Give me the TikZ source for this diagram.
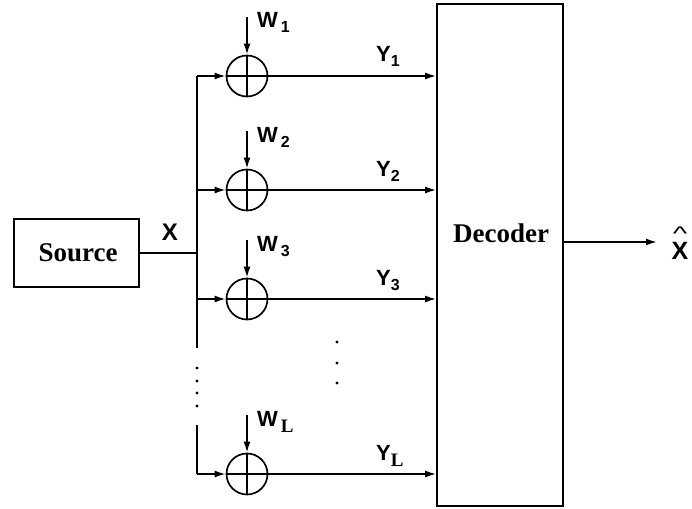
\documentclass[tikz,border=0pt]{standalone}
\usepackage{fontspec}
\setmainfont{Liberation Serif}
\setsansfont{Liberation Sans}
\usetikzlibrary{arrows.meta}
\newcommand{\subn}[1]{\raisebox{-5pt}{\fontsize{16}{16}\selectfont #1}}
\newcommand{\subL}{\raisebox{-6pt}{\rmfamily\bfseries\fontsize{19}{19}\selectfont L}}
\newcommand{\hatX}{\ooalign{X\cr\hidewidth\raisebox{19pt}{\mdseries\fontsize{22}{22}\selectfont\scalebox{1.4}[0.9]{\textasciicircum}}\hidewidth\cr}}
\begin{document}
\begin{tikzpicture}[x=1pt,y=-1pt,
  wire/.style={line width=1.7pt},
  arr/.style={wire,-{Latex[length=11pt,width=7pt]}},
  box/.style={draw,line width=1.7pt,inner sep=0pt},
  adder/.style={draw,circle,line width=1.7pt,minimum size=41pt,inner sep=0pt},
  lbl/.style={font=\sffamily\bfseries\fontsize{22}{22}\selectfont,inner sep=0pt},
  bigt/.style={font=\bfseries\fontsize{27}{27}\selectfont,inner sep=0pt},
  dot/.style={circle,fill,inner sep=0pt,minimum size=3.2pt}]
\useasboundingbox (0,0) rectangle (692,508);
% boxes
\node[box,minimum width=125pt,minimum height=68pt] (src) at (76.5,253) {};
\node[bigt] at (78,253) {Source};
\node[box,minimum width=126pt,minimum height=502pt] (dec) at (500,255) {};
\node[bigt] at (501,233) {Decoder};
% bus
\coordinate (bA) at (197,76);
\coordinate (bS) at (197,253);
\coordinate (bB) at (197,348);
\coordinate (bC) at (197,425);
\coordinate (bD) at (197,474);
\draw[wire] (src.east |- bS) -- (bS);
\draw[wire] (bA) -- (bB);
\draw[wire] (bC) -- (bD);
\node[lbl,font=\sffamily\bfseries\fontsize{24}{24}\selectfont] at (170,232) {X};
\foreach \yy in {368,381,393,406} \node[dot] at (197,\yy) {};
\foreach \yy in {342,363,383} \node[dot] at (337,\yy) {};
% branches
\foreach \i/\yy/\s in {1/76/\subn{1},2/190/\subn{2},3/299/\subn{3},4/474/\subL}{
  \node[adder] (a\i) at (247,\yy) {};
  \draw[wire] (a\i.north) -- (a\i.south);
  \coordinate (w\i) at (247,\yy-59);
  \coordinate (bi\i) at (197,\yy);
  \draw[arr] (bi\i) -- (a\i.west);
  \draw[arr] (w\i) -- (a\i.north);
  \draw[arr] (a\i.west) -- (a\i.west -| dec.west);
  \node[lbl,anchor=base west] at (257,\yy-48) {W\hspace{3pt}\s};
  \node[lbl,anchor=base west] at (376,\yy-14) {Y\s};
}
% output
\coordinate (out) at (657,242);
\draw[arr] (dec.east |- out) -- (out);
\node[lbl,font=\sffamily\bfseries\fontsize{25}{25}\selectfont,anchor=base] (xh) at (680,259) {\hatX};
\end{tikzpicture}
\end{document}
